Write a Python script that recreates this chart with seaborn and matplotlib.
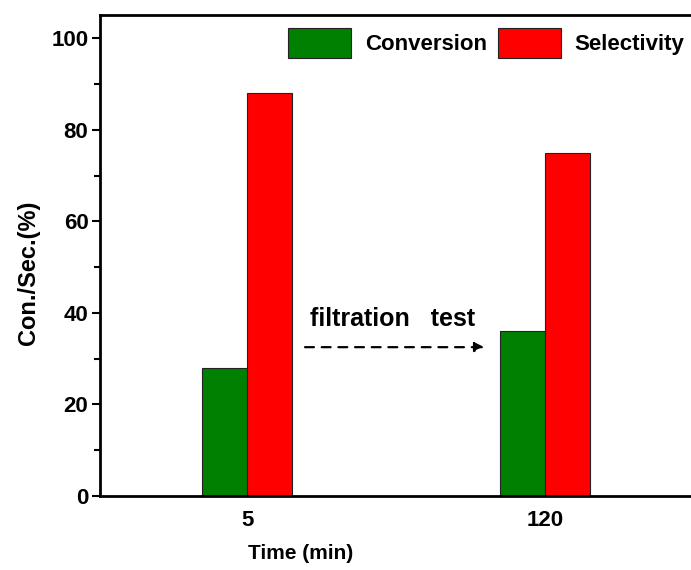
import pandas as pd
import matplotlib.pyplot as plt
import seaborn as sns
from matplotlib.ticker import MultipleLocator

# Data
times = ["5", "120"]
conversion = [28, 36]
selectivity = [88, 75]
series_names = ["Conversion", "Selectivity"]
colors = ["#008000", "#ff0000"]

df = pd.DataFrame({
    "time": times * 2,
    "value": conversion + selectivity,
    "series": [series_names[0]] * 2 + [series_names[1]] * 2,
})

sns.set_style("ticks")
plt.rcParams["font.family"] = ["Liberation Sans", "DejaVu Sans"]
plt.rcParams["font.weight"] = "bold"
plt.rcParams["text.color"] = "black"
plt.rcParams["axes.labelcolor"] = "black"
plt.rcParams["xtick.color"] = "black"
plt.rcParams["ytick.color"] = "black"
plt.rcParams["axes.edgecolor"] = "black"

fig = plt.figure(figsize=(6.91, 5.70), dpi=100)
ax = fig.add_axes([0.145, 0.13, 0.87, 0.843])

sns.barplot(data=df, x="time", y="value", hue="series", order=times,
            hue_order=series_names, palette=colors, width=0.3,
            edgecolor="#222222", linewidth=0.8, saturation=1, ax=ax)

ax.set_xlim(-0.493, 1.524)
ax.set_ylim(0, 105)
ax.yaxis.set_major_locator(MultipleLocator(20))
ax.yaxis.set_minor_locator(MultipleLocator(10))
ax.tick_params(axis="y", which="major", length=6, width=1.5, labelsize=16,
               direction="out", pad=2.5)
ax.tick_params(axis="y", which="minor", length=4, width=1.5, direction="out")
ax.tick_params(axis="x", length=0, labelsize=16, pad=10)
for s in ["left", "bottom", "top"]:
    ax.spines[s].set_linewidth(2)
ax.spines["right"].set_visible(False)

ax.set_xlabel("Time (min)", fontsize=15, fontweight="bold")
ax.set_ylabel("Con./Sec.(%)", fontsize=17, fontweight="bold")
ax.xaxis.set_label_coords(0.333, -0.1)
ax.yaxis.set_label_coords(-0.1, 0.464)

# filtration test annotation
ax.annotate("", xy=(0.805, 32.5), xytext=(0.185, 32.5),
            arrowprops=dict(arrowstyle="-|>", linestyle=(0, (4, 3.5)), lw=1.6,
                            color="black", mutation_scale=14))
ax.text(0.487, 38.6, "filtration   test", ha="center", va="center",
        fontsize=18, fontweight="bold")

ax.legend(loc="upper right", bbox_to_anchor=(1.005, 1.015), ncol=2, frameon=False,
          handlelength=2.85, handleheight=1.7, columnspacing=0.5,
          handletextpad=0.6, prop={"weight": "bold", "size": 16})

fig.savefig("out.png", dpi=100)
